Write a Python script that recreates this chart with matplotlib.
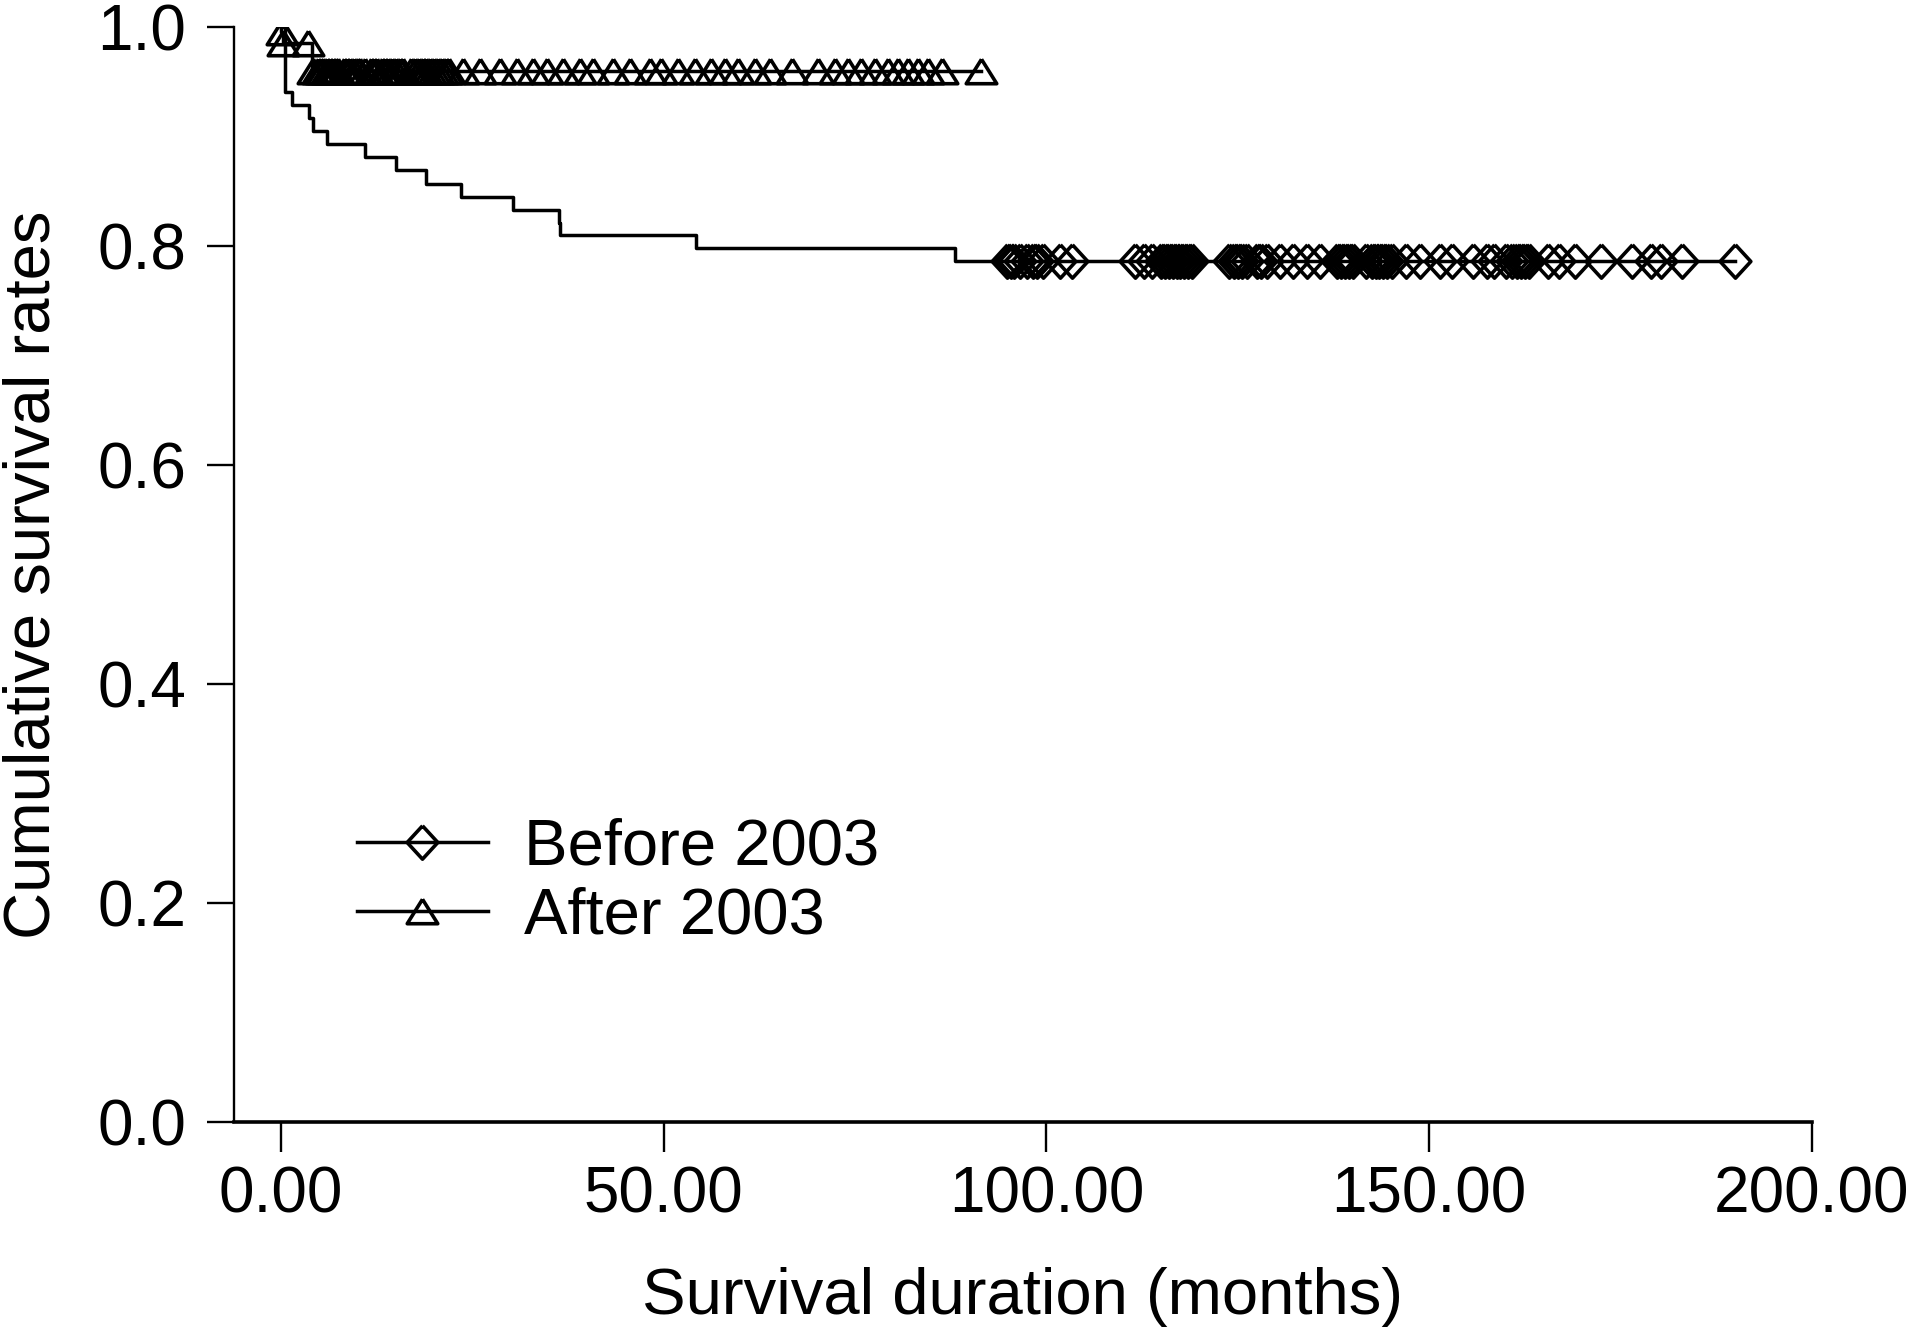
import numpy as np
import matplotlib
matplotlib.use("Agg")
import matplotlib.pyplot as plt

plt.rcParams['font.family'] = ['Liberation Sans', 'DejaVu Sans']

# Kaplan-Meier step data (months, survival)
before_times = [0, 0.5, 1.4, 3.7, 4.2, 6.0, 11.0, 15.0, 18.9, 23.5, 30.3,
                36.3, 36.5, 54.2, 88.0, 190.0]
before_surv = [1.0, 0.941, 0.929, 0.917, 0.905, 0.893, 0.881, 0.869, 0.857,
               0.845, 0.833, 0.821, 0.810, 0.798, 0.786, 0.786]
before_censor = [94.8, 95.3, 95.8, 96.5, 97.5, 98.3, 98.8, 99.5, 101.8, 103.3,
                 111.5, 112.7, 113.8, 115.0, 115.5, 116.0, 116.5, 117.0, 117.5,
                 118.0, 118.5, 119.0,
                 123.9, 124.5, 125.0, 125.5, 126.2, 127.5, 128.0, 128.8, 130.5,
                 132.2, 134.0, 135.7, 138.0, 138.5, 139.0, 139.5, 140.0, 141.8,
                 142.5, 143.0, 143.5, 144.0, 144.5, 145.2, 147.0, 148.8, 151.4,
                 153.0, 155.7, 157.5, 158.5, 160.0, 160.8, 161.5, 162.0, 162.5,
                 163.0, 165.5, 167.0, 169.0, 172.5, 176.5, 179.0, 180.3, 183.0,
                 190.0]

after_times = [0, 0.05, 0.25, 4.0, 91.5]
after_surv = [1.0, 0.995, 0.985, 0.96, 0.96]
after_censor = [0.1, 0.3, 3.5,
                4.2, 4.8, 5.2, 5.5, 6.0, 6.4, 6.8, 7.2, 7.5, 8.2, 8.6, 9.0, 9.6,
                10.0, 10.3, 11.0, 11.8, 12.2, 12.5, 13.2, 13.6, 14.0, 14.5,
                15.0, 15.5, 16.0,
                17.0, 17.5, 18.0, 18.5, 19.0, 19.5, 20.0, 20.5, 21.0, 21.5, 22.0,
                23.8, 26.0, 28.6, 30.8, 32.9, 34.7, 36.8, 39.0, 40.7, 43.4, 45.6,
                48.2, 49.7, 51.9, 54.1, 56.2, 58.0, 59.7, 61.9, 63.9, 66.7, 70.2,
                72.4, 74.1, 75.8, 77.6, 79.3, 80.6, 81.9, 83.2, 84.5, 86.3, 91.5]

x_ticks = [0, 50, 100, 150, 200]
y_ticks = [0.0, 0.2, 0.4, 0.6, 0.8, 1.0]


def surv_at(times, surv, t):
    idx = np.searchsorted(times, t, side='right') - 1
    return np.asarray(surv)[idx]


# open marker shapes like SPSS
diamond = [(0, 1), (0.92, 0), (0, -1), (-0.92, 0), (0, 1)]
triangle = [(0, 0.8), (1, -0.8), (-1, -0.8), (0, 0.8)]

fig = plt.figure(figsize=(19.15, 13.37), dpi=100)
ax = fig.add_axes([0.1222, 0.1608, 0.9462 - 0.1222, 0.9798 - 0.1608])

lw = 2.5
mew = 2.6
ax.step(before_times, before_surv, where='post', color='black', lw=lw)
ax.step(after_times, after_surv, where='post', color='black', lw=lw)

ax.plot(before_censor, surv_at(before_times, before_surv, before_censor),
        ls='none', marker=diamond, ms=24, mfc='none', mec='black', mew=mew)
ax.plot(after_censor, surv_at(after_times, after_surv, after_censor),
        ls='none', marker=triangle, ms=22, mfc='none', mec='black', mew=mew)

# legend handles
h1, = ax.plot([], [], color='black', lw=lw, marker=diamond, ms=24,
              mfc='none', mec='black', mew=mew, label='Before 2003')
h2, = ax.plot([], [], color='black', lw=lw, marker=triangle, ms=22,
              mfc='none', mec='black', mew=mew, label='After 2003')
ax.legend(handles=[h1, h2], loc='center left', bbox_to_anchor=(0.078, 0.219),
          frameon=False, fontsize=47, handlelength=2.0, handletextpad=0.55,
          borderpad=0, borderaxespad=0, labelspacing=0.14, numpoints=1)

ax.set_xlim(-6.14, 200)
ax.set_ylim(0, 1.0)
ax.set_xticks(x_ticks)
ax.set_yticks(y_ticks)
ax.set_xticklabels([f"{v:.2f}" for v in x_ticks])
ax.set_yticklabels([f"{v:.1f}" for v in y_ticks])

for s in ['top', 'right']:
    ax.spines[s].set_visible(False)
ax.spines['left'].set_linewidth(1.7)
ax.spines['bottom'].set_linewidth(2.6)
ax.tick_params(axis='y', direction='out', length=19.5, width=1.7, pad=15,
               labelsize=46)
ax.tick_params(axis='x', direction='out', length=21.5, width=1.7, pad=10,
               labelsize=46)

ax.set_xlabel('Survival duration (months)', fontsize=47, labelpad=30)
ax.set_ylabel('Cumulative survival rates', fontsize=47, labelpad=25)

fig.savefig('out.png', dpi=100)
